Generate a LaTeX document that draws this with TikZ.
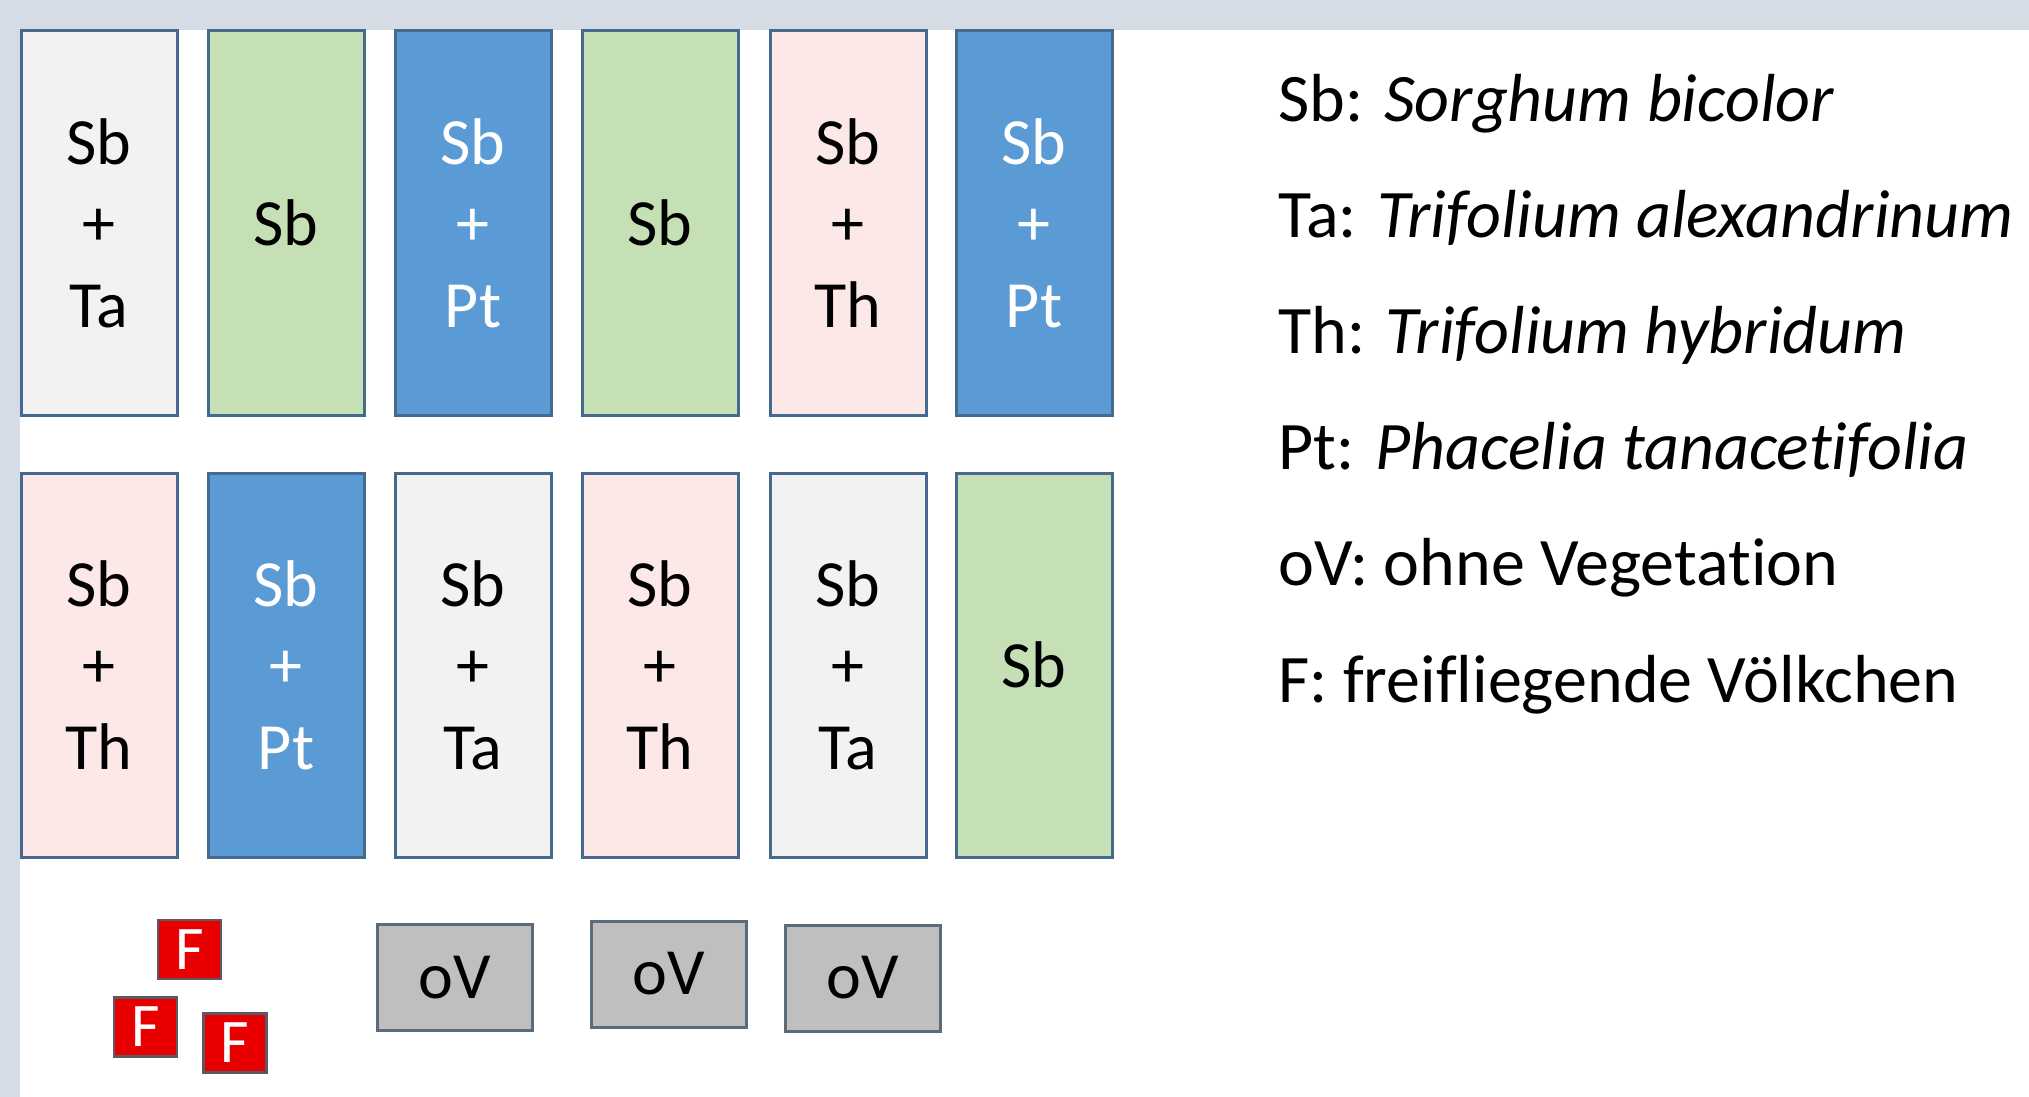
\documentclass[tikz,border=0pt]{standalone}
\usepackage{fontspec}
\setmainfont{Carlito}[Ligatures=NoCommon]
\definecolor{bgstrip}{HTML}{D6DCE5}
\definecolor{bord}{HTML}{46698E}
\definecolor{cgray}{HTML}{F2F2F2}
\definecolor{cgreen}{HTML}{C5E0B4}
\definecolor{cblue}{HTML}{5B9BD5}
\definecolor{cpink}{HTML}{FCE8E6}
\definecolor{covfill}{HTML}{BFBFBF}
\definecolor{covbord}{HTML}{5A6B7C}
\definecolor{cred}{HTML}{E80000}
\definecolor{credbord}{HTML}{5A5A66}
\tikzset{
  plotbox/.style={draw=bord, line width=1.5pt, minimum width=78pt, minimum height=192pt,
    inner sep=0pt, outer sep=0pt, align=center, anchor=north west,
    font=\fontsize{33}{40.75}\selectfont},
  grayplot/.style={plotbox, fill=cgray},
  greenplot/.style={plotbox, fill=cgreen},
  blueplot/.style={plotbox, fill=cblue, text=white},
  pinkplot/.style={plotbox, fill=cpink},
  ovbox/.style={draw=covbord, line width=1.5pt, fill=covfill, minimum width=77.5pt,
    minimum height=53pt, inner sep=0pt, font=\fontsize{33}{33}\selectfont},
  fbox/.style={draw=credbord, line width=1.2pt, fill=cred, text=white, minimum width=31.5pt,
    minimum height=29.5pt, inner sep=0pt, font=\fontsize{31}{31}\selectfont},
  legend/.style={anchor=base west, inner sep=0pt, font=\fontsize{34}{40}\selectfont}
}
\begin{document}
\begin{tikzpicture}[x=0.5pt,y=-0.5pt]
\useasboundingbox (0,0) rectangle (2029,1097);
\fill[white] (0,0) rectangle (2029,1097);
\fill[bgstrip] (0,0) rectangle (2029,30);
\fill[bgstrip] (0,0) rectangle (20,1097);
% row 1
\node[grayplot]  (a1) at (21,31)  {Sb\\+\\Ta};
\node[greenplot] (a2) at (208,31) {Sb};
\node[blueplot]  (a3) at (395,31) {Sb\\+\\Pt};
\node[greenplot] (a4) at (582,31) {Sb};
\node[pinkplot]  (a5) at (770,31) {Sb\\+\\Th};
\node[blueplot]  (a6) at (956,31) {Sb\\+\\Pt};
% row 2
\node[pinkplot]  (b1) at (21,473)  {Sb\\+\\Th};
\node[blueplot]  (b2) at (208,473) {Sb\\+\\Pt};
\node[grayplot]  (b3) at (395,473) {Sb\\+\\Ta};
\node[pinkplot]  (b4) at (582,473) {Sb\\+\\Th};
\node[grayplot]  (b5) at (770,473) {Sb\\+\\Ta};
\node[greenplot] (b6) at (956,473) {Sb};
% free-flying colonies
\node[fbox] (f1) at (189.5,949.5) {F};
\node[fbox] (f2) at (145.5,1027) {F};
\node[fbox] (f3) at (235,1043) {F};
% without vegetation
\node[ovbox] (o1) at (454.5,977.5) {oV};
\node[ovbox] (o2) at (669,974) {oV};
\node[ovbox] (o3) at (863,978) {oV};
% legend
\node[legend] (l1) at (1278,121) {Sb: \textit{Sorghum bicolor}};
\node[legend] (l2) at (1278,237) {Ta: \textit{Trifolium alexandrinum}};
\node[legend] (l3) at (1278,353) {Th: \textit{Trifolium hybridum}};
\node[legend] (l4) at (1278,469) {Pt: \textit{Phacelia tanacetifolia}};
\node[legend] (l5) at (1278,585) {oV: ohne Vegetation};
\node[legend] (l6) at (1278,702) {F: freifliegende Völkchen};
\end{tikzpicture}
\end{document}
